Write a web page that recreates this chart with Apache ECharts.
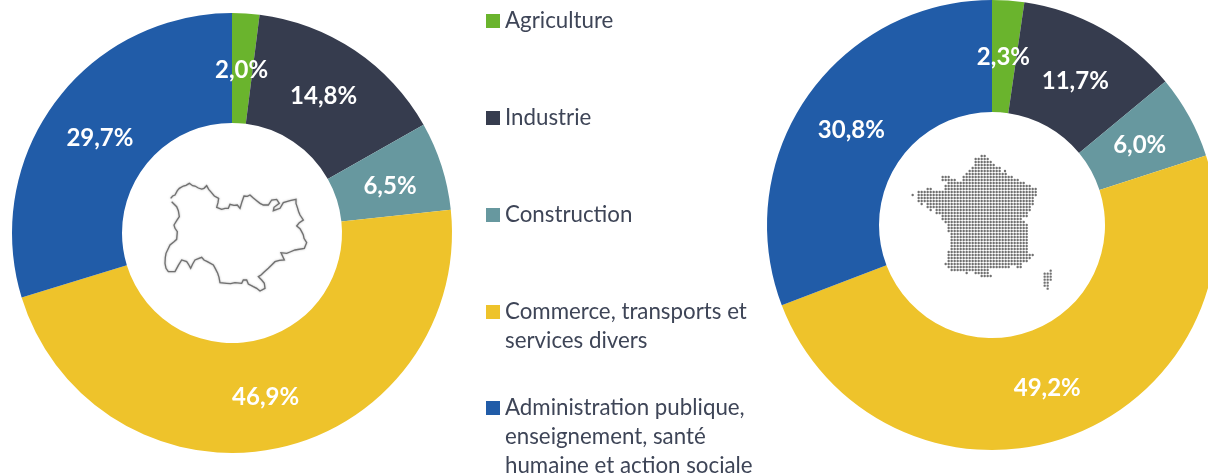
<!DOCTYPE html>
<html>
<head>
<meta charset="utf-8">
<style>
    html, body { margin: 0; padding: 0; background: #fff; }
    #chart { width: 1208px; height: 475px; }
</style>
<script src="https://cdn.jsdelivr.net/npm/echarts@6/dist/echarts.min.js"></script>
</head>
<body>
<div id="chart"></div>
<script>
// donnees
const categories = [
    'Agriculture',
    'Industrie',
    'Construction',
    'Commerce, transports et services divers',
    'Administration publique, enseignement, santé humaine et action sociale'
];
const regionValues = [2.0, 14.8, 6.5, 46.9, 29.7];
const franceValues = [2.3, 11.7, 6.0, 49.2, 30.8];
const legendLines = [
    ['Agriculture'],
    ['Industrie'],
    ['Construction'],
    ['Commerce, transports et', 'services divers'],
    ['Administration publique,', 'enseignement, santé', 'humaine et action sociale']
];
const sliceColors = ['#6ab42d', '#363c4e', '#67989f', '#eec32b', '#215ca8'];
const legendCenters = [21, 118, 215, 312, 408];

// petits decalages des etiquettes par rapport au milieu de l'anneau
const regionLabelOffsets = [[-1, 5], [-2, 3], [-2, 4], [0, 0], [3, 5]];
const franceLabelOffsets = [[-1, 4], [-1, 6], [-3, 3], [-2, 1], [1, 3]];

const FONT = 'Lato, "Open Sans", sans-serif';
const TEXT_COLOR = '#3e4557';

// contour de la region (decor au centre du premier anneau)
const outlineZoomed = [
    [152,235],[158,228],[165,225],[172,212],[178,205],[190,198],[198,196],[208,190],[218,197],[225,198],[235,204],[245,207],[252,205],[260,197],
    [266,208],[272,215],[283,228],[296,235],[294,248],[290,262],[305,268],[315,265],[325,265],[330,253],[342,256],[352,255],[360,265],[366,245],
    [372,228],[382,229],[390,225],[400,234],[410,242],[420,250],[430,255],[445,255],[455,240],[470,238],[478,250],[462,262],[460,272],[480,265],
    [490,248],[510,242],[528,238],[528,250],[532,262],[536,275],[540,285],[550,300],[538,308],[530,318],[540,326],[545,335],[550,345],[552,355],
    [560,368],[553,385],[525,390],[510,396],[500,400],[483,398],[493,420],[478,421],[465,425],[455,435],[445,445],[430,458],[424,464],[415,470],
    [425,480],[433,490],[435,505],[420,513],[410,505],[400,500],[385,492],[380,480],[370,480],[365,490],[345,488],[332,491],[320,490],[300,488],
    [297,472],[293,460],[286,446],[280,435],[262,425],[252,420],[245,412],[235,416],[225,420],[218,432],[212,445],[205,432],[200,425],[185,420],
    [175,436],[165,455],[145,455],[138,445],[135,430],[136,412],[138,400],[150,375],[162,365],[170,358],[172,335],[165,325],[162,315],[170,302],
    [178,290],[175,272],[170,260],[155,245]
];
const outlinePoints = outlineZoomed.map(p => [120 + p[0] / 3, 120 + p[1] / 3]);

// carte de France en points : [ligne, debut, fin] sur la grille du zoom
const franceRows = [
    [108,335,345],[117,317,354],[126,317,363],[135,317,372],[144,308,390],[153,299,390],[153,405,405],[162,290,408],
    [171,218,236],[171,281,426],[180,218,254],[180,281,444],[189,236,462],[198,227,480],[207,173,182],[207,227,498],
    [216,146,498],[225,128,128],[225,146,498],[234,146,490],[243,146,490],[252,155,155],[252,173,490],[261,173,480],
    [270,182,182],[270,200,480],[279,200,470],[288,218,470],[297,218,452],[306,227,462],[315,236,470],[324,236,470],
    [333,236,474],[342,245,474],[351,245,474],[360,245,470],[369,245,470],[378,245,470],[387,245,470],[396,236,470],
    [405,236,490],[414,236,480],[423,236,470],[432,227,416],[432,425,452],[441,236,416],[441,443,452],[450,245,360],
    [459,290,290],[459,317,360],[468,335,362],
    [452,542,542],[461,524,542],[470,524,542],[479,524,542],[488,524,533],[497,524,533],[506,533,533]
];

const franceDots = [];
franceRows.forEach(r => {
    for (let x = r[1]; x <= r[2]; x += 9) {
        franceDots.push({
            type: 'circle',
            silent: true,
            shape: { cx: 870 + x / 3, cy: 120 + r[0] / 3, r: 1.2 },
            style: { fill: '#707070' }
        });
    }
});

// lignes suivantes de la legende (la premiere est portee par le composant legend)
const legendExtra = [];
legendLines.forEach((lines, i) => {
    lines.slice(1).forEach((line, j) => {
        legendExtra.push({
            type: 'text',
            silent: true,
            x: 505,
            y: legendCenters[i] + (j + 1) * 29,
            style: {
                text: line,
                font: '22.3px ' + FONT,
                fill: TEXT_COLOR,
                verticalAlign: 'middle'
            }
        });
    });
});

const fmtLabel = params => params.value.toFixed(1).replace('.', ',') + '%';

const makePie = (center, radius, values, offsets) => ({
    type: 'pie',
    center: center,
    radius: radius,
    startAngle: 90,
    clockwise: true,
    silent: true,
    label: {
        position: 'inside',
        formatter: fmtLabel,
        color: '#fff',
        fontFamily: FONT,
        fontWeight: 'bold',
        fontSize: 24
    },
    labelLine: { show: false },
    data: categories.map((name, i) => ({
        name: name,
        value: values[i],
        itemStyle: { color: sliceColors[i] },
        label: { offset: offsets[i] }
    }))
});

const myChart = echarts.init(document.getElementById('chart'), null, { renderer: 'canvas' });
myChart.setOption({
    animation: false,
    backgroundColor: '#fff',
    legend: categories.map((name, i) => ({
        data: [name],
        left: 486,
        top: legendCenters[i] - 12,
        padding: 0,
        itemWidth: 14,
        itemHeight: 14,
        icon: 'rect',
        selectedMode: false,
        formatter: () => legendLines[i][0],
        textStyle: {
            color: TEXT_COLOR,
            fontFamily: FONT,
            fontSize: 22.3,
            lineHeight: 24
        }
    })),
    series: [
        makePie([232, 233], [110, 220], regionValues, regionLabelOffsets),
        makePie([992, 225], [113, 225], franceValues, franceLabelOffsets)
    ],
    graphic: [
        {
            type: 'polyline',
            silent: true,
            shape: { points: outlinePoints },
            style: {
                fill: 'none',
                stroke: '#707070',
                lineWidth: 1.3,
                shadowBlur: 2,
                shadowColor: 'rgba(90,90,90,0.5)'
            }
        },
        ...franceDots,
        ...legendExtra
    ]
});
</script>
</body>
</html>
